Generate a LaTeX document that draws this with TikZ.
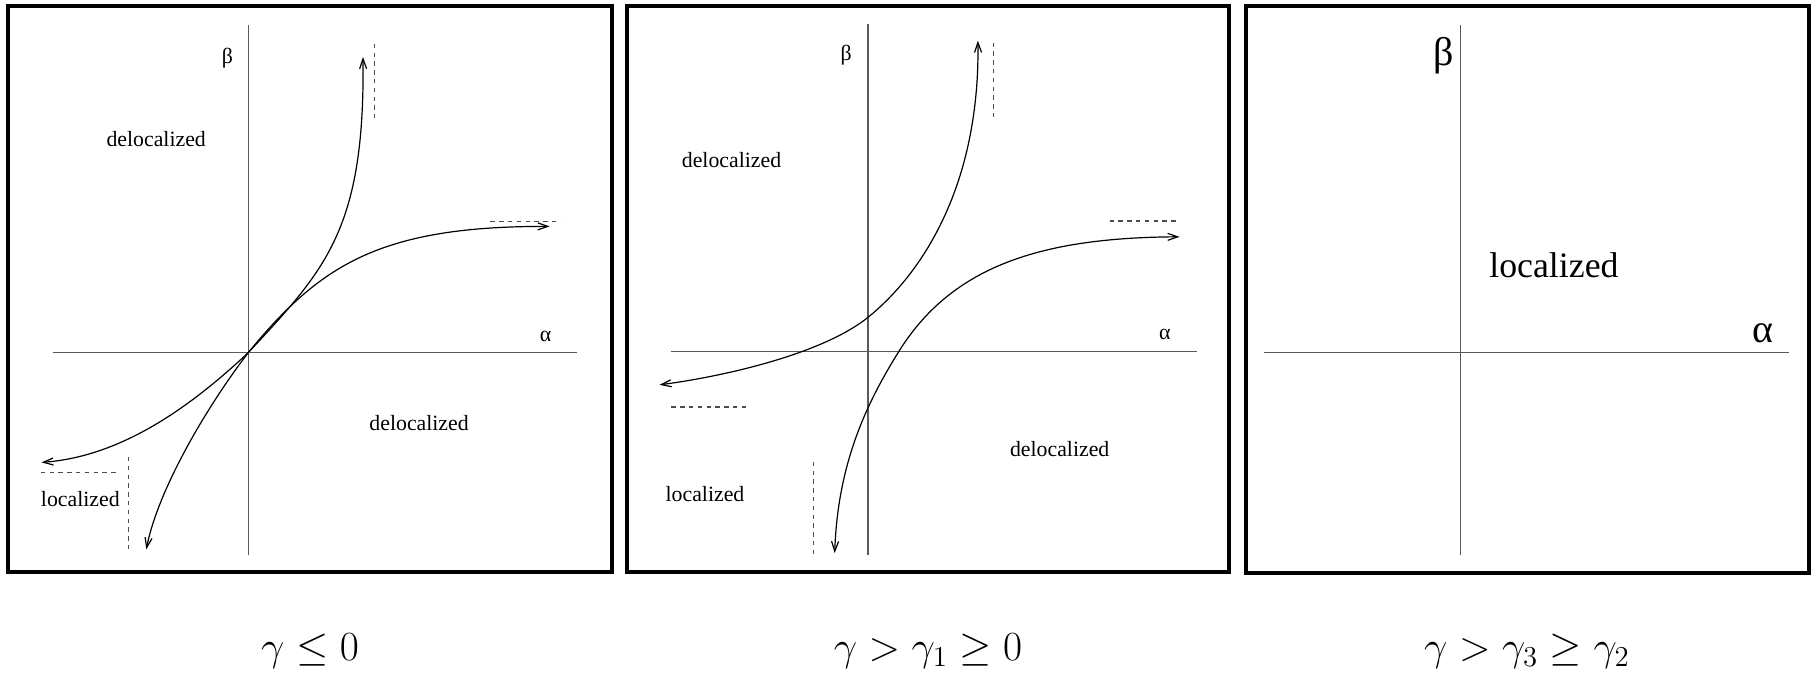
\documentclass[tikz,border=0pt]{standalone}
\usepackage[no-math]{fontspec}
\setmainfont{Liberation Serif}
\usetikzlibrary{arrows.meta}
\begin{document}
\begin{tikzpicture}[x=0.5pt,y=-0.5pt,
  frame/.style={draw=black,line width=2pt},
  axis/.style={draw=black!65,line width=0.6pt},
  curve/.style={draw=black,line width=0.6pt,-{Straight Barb[length=5pt,width=3.5pt]}},
  asym/.style={draw=black!70,line width=0.6pt,dash pattern=on 2.2pt off 2.2pt},
  lbl/.style={font=\fontsize{10.9}{13}\selectfont,inner sep=0pt},
  biglbl/.style={font=\fontsize{17.9}{21}\selectfont,inner sep=0pt},
  greekbig/.style={font=\fontsize{20}{24}\selectfont,inner sep=0pt},
  caption/.style={font=\fontsize{22.6}{27}\selectfont,inner sep=0pt,anchor=base}]
\useasboundingbox (0,0) rectangle (1817,675);

% ---------------- Panel 1 ----------------
\draw[frame] (8,6) rectangle (612,572);
\coordinate (A1t) at (248.3,25);
\coordinate (A1b) at (248.3,555);
\coordinate (A1l) at (52.6,352.6);
\coordinate (A1r) at (577,352.6);
\draw[axis] (A1l) -- (A1r);
\draw[axis] (A1t) -- (A1b);
\coordinate (O1) at (248.3,352.6);
\coordinate (U1) at (363,57);
\coordinate (R1) at (549.6,226.4);
\coordinate (L1) at (41.5,462.4);
\coordinate (D1) at (146.3,549.4);
\draw[curve] (O1) .. controls (325,270) and (365,230) .. (U1);
\draw[curve] (O1) .. controls (320,265) and (380,226) .. (R1);
\draw[curve] (O1) .. controls (182,415) and (115,457) .. (L1);
\draw[curve] (O1) .. controls (208,405) and (158,489) .. (D1);
\coordinate (V1a) at (374.8,43.7);  \coordinate (V1b) at (374.8,117.6);
\coordinate (H1a) at (490.3,221.2); \coordinate (H1b) at (560.7,221.2);
\coordinate (H1c) at (40.7,472.8);  \coordinate (H1d) at (116.6,472.8);
\coordinate (V1c) at (128.5,456.9); \coordinate (V1d) at (128.5,548.6);
\draw[asym] (V1a) -- (V1b);
\draw[asym] (H1a) -- (H1b);
\draw[asym] (H1c) -- (H1d);
\draw[asym] (V1c) -- (V1d);
\node[lbl] (d1a) at (156.2,138.7) {delocalized};
\node[lbl] (d1b) at (419.1,422.9) {delocalized};
\node[lbl] (l1)  at (80.3,499.4) {localized};
\node[lbl] (b1)  at (227.4,58.5) {β};
\node[lbl] (a1)  at (545.7,336.7) {α};

% ---------------- Panel 2 ----------------
\draw[frame] (627,6) rectangle (1229,572);
\coordinate (A2t) at (867.9,24);
\coordinate (A2b) at (867.9,555);
\coordinate (A2l) at (671.4,351.5);
\coordinate (A2r) at (1196.5,351.5);
\draw[axis] (A2l) -- (A2r);
\draw[axis] (A2t) -- (A2b);
\coordinate (M2) at (867.9,317.4);
\coordinate (L2) at (659.5,384.8);
\coordinate (U2) at (977.9,40.7);
\draw[curve] (M2) .. controls (821,355) and (720,377) .. (L2);
\draw[curve] (M2) .. controls (922.5,273.3) and (980,185) .. (U2);
\coordinate (N2) at (898.8,351.5);
\coordinate (D2) at (834.7,553.1);
\coordinate (R2) at (1179.5,236.8);
\draw[curve] (N2) .. controls (867,402.5) and (837.7,463) .. (D2);
\draw[curve] (N2) .. controls (951.8,266.5) and (1040,237.5) .. (R2);
\coordinate (V2a) at (993.7,42.5);  \coordinate (V2b) at (993.7,116.5);
\coordinate (H2a) at (671.4,407);   \coordinate (H2b) at (745.7,407);
\coordinate (H2c) at (1109.5,220.9);\coordinate (H2d) at (1179.5,220.9);
\coordinate (V2c) at (813.8,461.7); \coordinate (V2d) at (813.8,553.8);
\draw[asym] (V2a) -- (V2b);
\draw[asym] (H2a) -- (H2b);
\draw[asym] (H2c) -- (H2d);
\draw[asym] (V2c) -- (V2d);
\node[lbl] (d2a) at (731.5,159.8) {delocalized};
\node[lbl] (d2b) at (1059.7,449.5) {delocalized};
\node[lbl] (l2)  at (705,493.9) {localized};
\node[lbl] (b2)  at (846.2,55.5) {β};
\node[lbl] (a2)  at (1164.9,334.8) {α};

% ---------------- Panel 3 ----------------
\draw[frame] (1246,6) rectangle (1809,573);
\coordinate (A3t) at (1460.8,25);
\coordinate (A3b) at (1460.8,555);
\coordinate (A3l) at (1264,352.6);
\coordinate (A3r) at (1789,352.6);
\draw[axis] (A3l) -- (A3r);
\draw[axis] (A3t) -- (A3b);
\node[biglbl] (l3) at (1553.9,265.6) {localized};
\node[greekbig] (b3) at (1443.5,55.5) {β};
\node[greekbig] (a3) at (1762.5,333) {α};

% ---------------- Captions ----------------
\node[caption] (c1) at (310,660) {$\gamma\le 0$};
\node[caption] (c2) at (928,660) {$\gamma>\gamma_1\ge 0$};
\node[caption] (c3) at (1527,660) {$\gamma>\gamma_3\ge\gamma_2$};
\end{tikzpicture}
\end{document}
